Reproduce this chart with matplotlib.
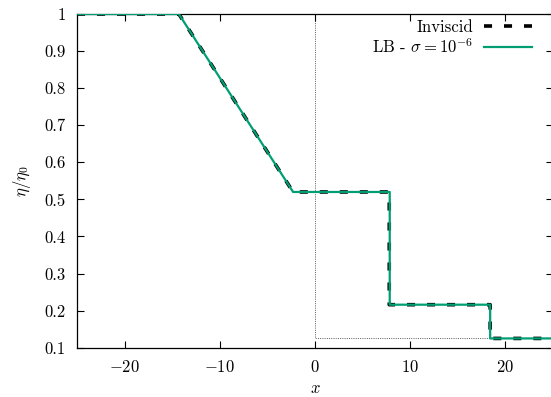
import matplotlib
matplotlib.use("Agg")
import matplotlib.pyplot as plt

plt.rcParams['font.family'] = ['cmr10']
plt.rcParams['mathtext.fontset'] = 'cm'
plt.rcParams['axes.formatter.use_mathtext'] = True
plt.rcParams['lines.scale_dashes'] = False

# Data
inv_x = [-25, -14.3, -2.3, 7.8, 7.8, 18.4, 18.4, 25]
inv_y = [1.0, 1.0, 0.52, 0.52, 0.216, 0.216, 0.125, 0.125]
lb_x = [-25, -14.3, -2.3, 7.85, 7.85, 18.4, 18.4, 25]
lb_y = [1.0, 1.0, 0.52, 0.52, 0.216, 0.216, 0.125, 0.125]
init_x = [-25, 0, 0, 25]
init_y = [1.0, 1.0, 0.125, 0.125]

xticks = [-20, -10, 0, 10, 20]
xticklabels = ['$-20$', '$-10$', '$0$', '$10$', '$20$']
yticks = [0.1, 0.2, 0.3, 0.4, 0.5, 0.6, 0.7, 0.8, 0.9, 1.0]
yticklabels = ['0.1', '0.2', '0.3', '0.4', '0.5', '0.6', '0.7', '0.8', '0.9', '1']

W, H = 551, 397
fs = 12
fig = plt.figure(figsize=(W / 100, H / 100), dpi=100)
ax = fig.add_axes([77 / W, 49.3 / H, (553 - 77) / W, (383 - 49.3) / H])

ax.plot(init_x, init_y, color='0.35', lw=0.7, linestyle=(0, (0.7, 0.9)), zorder=1)
ax.plot(inv_x, inv_y, color='black', lw=2.6, linestyle=(0, (5.8, 8.6)),
        solid_capstyle='butt', dash_capstyle='butt', label='Inviscid', zorder=2)
ax.plot(lb_x, lb_y, color='#009e73', lw=1.6, label=r'LB - $\sigma = 10^{-6}$', zorder=3)

ax.set_xlim(-25, 25)
ax.set_ylim(0.1, 1.0)
ax.set_xticks(xticks)
ax.set_xticklabels(xticklabels)
ax.set_yticks(yticks)
ax.set_yticklabels(yticklabels)
ax.tick_params(direction='in', length=5, width=0.8, top=True, right=True,
               labelsize=fs, pad=8)
for s in ax.spines.values():
    s.set_linewidth(0.9)

ax.set_xlabel('$x$', fontsize=fs, labelpad=4)
ax.set_ylabel(r'$\eta/\eta_0$', fontsize=fs, labelpad=8)

leg = ax.legend(loc='upper right', bbox_to_anchor=(532 / W, 1 - 20 / H),
                bbox_transform=fig.transFigure, frameon=False, markerfirst=False,
                fontsize=fs, handlelength=2.9, handletextpad=0.65,
                labelspacing=0.1, borderpad=0, borderaxespad=0)

fig.savefig('out.png', dpi=100)
